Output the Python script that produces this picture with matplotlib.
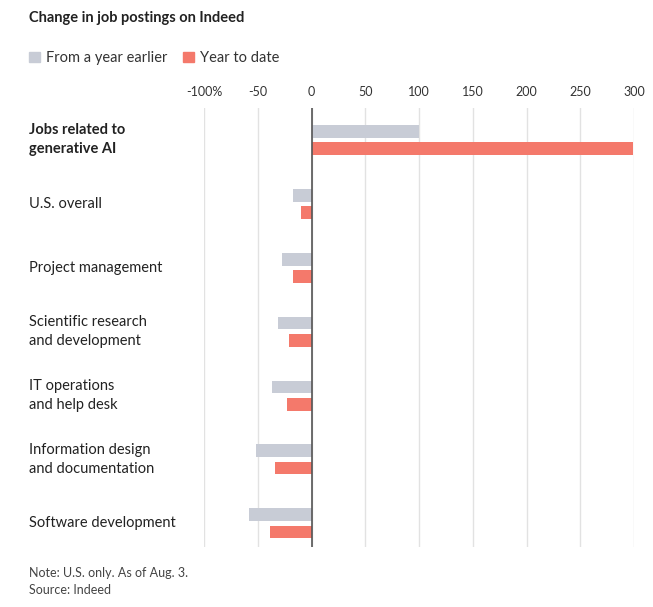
import matplotlib
matplotlib.use("Agg")
import matplotlib.pyplot as plt
import matplotlib.transforms as mtransforms
from matplotlib.patches import Patch
import numpy as np

plt.rcParams['font.family'] = ['Lato', 'DejaVu Sans']

categories = ["Jobs related to\ngenerative AI", "U.S. overall", "Project management",
              "Scientific research\nand development", "IT operations\nand help desk",
              "Information design\nand documentation", "Software development"]
year_earlier = [100, -17, -27, -31, -37, -52, -58]
year_to_date = [299, -10, -17, -21, -23, -34, -39]
ticks = [-100, -50, 0, 50, 100, 150, 200, 250, 300]
tick_labels = ["-100%", "-50", "0", "50", "100", "150", "200", "250", "300"]

gray = "#c8ccd6"
red = "#f4796b"

fig = plt.figure(figsize=(6.53, 6.07), dpi=100)
ax = fig.add_axes([204 / 653, 1 - 547 / 607, 430 / 653, (547 - 108) / 607])

y = np.arange(len(categories))
h = 0.2
off = 0.135
ax.barh(y - off, year_earlier, height=h, color=gray, zorder=2)
ax.barh(y + off, year_to_date, height=h, color=red, zorder=2)

ax.set_xlim(-100, 300)
ax.set_ylim(6.37, -0.5)
ax.set_xticks(ticks)
ax.set_xticklabels(tick_labels)
ax.xaxis.tick_top()
ax.tick_params(axis='x', length=0, pad=7, labelsize=9, labelcolor="#333333")
ax.set_yticks([])
for t in ticks:
    ax.axvline(t, color="#e2e2e2", lw=1, zorder=1)
ax.axvline(0, color="#555555", lw=1.2, zorder=3)
for s in ax.spines.values():
    s.set_visible(False)

trans = mtransforms.blended_transform_factory(fig.transFigure, ax.transData)
for i, c in enumerate(categories):
    ax.text(29 / 653, i, c, transform=trans, ha='left', va='center', fontsize=10.5,
            color="#222222", fontweight='bold' if i == 0 else 'normal', linespacing=1.45)

fig.text(29 / 653, 1 - 18 / 607, "Change in job postings on Indeed", fontsize=10.5,
         fontweight='bold', color="#222222", va='center')

handles = [Patch(color=gray, label="From a year earlier"), Patch(color=red, label="Year to date")]
fig.legend(handles=handles, loc='center left', bbox_to_anchor=(16 / 653, 1 - 58 / 607), ncol=2,
           frameon=False, fontsize=10.5, handlelength=0.75, handleheight=0.75,
           handletextpad=0.4, columnspacing=1.1, labelcolor="#333333")

fig.text(29 / 653, 1 - 573 / 607, "Note: U.S. only. As of Aug. 3.", fontsize=9,
         color="#444444", va='center')
fig.text(29 / 653, 1 - 590 / 607, "Source: Indeed", fontsize=9, color="#444444", va='center')

fig.savefig("out.png", dpi=100)
